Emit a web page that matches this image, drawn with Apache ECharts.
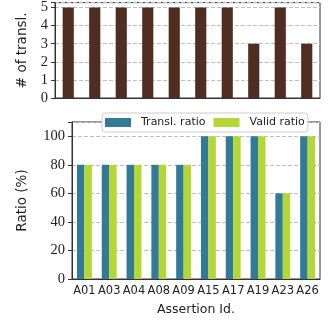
<!DOCTYPE html>
<html><head><meta charset="utf-8">
<script src="https://cdn.jsdelivr.net/npm/echarts@6/dist/echarts.min.js"></script>
<style>html,body{margin:0;padding:0;background:#fff}#c{width:331px;height:322px}</style>
</head><body><div id="c"></div>
<script>
const categories = ['A01','A03','A04','A08','A09','A15','A17','A19','A23','A26'];
const numTransl = [5,5,5,5,5,5,5,3,5,3];
const translRatio = [80,80,80,80,80,100,100,100,60,100];
const validRatio = [80,80,80,80,80,100,100,100,60,100];

const axisColor = '#333';
const serif = 'Liberation Serif';
const sans = 'DejaVu Sans';
const chart = echarts.init(document.getElementById('c'), null, {renderer:'canvas'});
const splitLine = {show:true, lineStyle:{color:'#c0c0c0', type:[4,2], width:1}};
chart.setOption({
  animation:false,
  legend:{
    left:102, top:113, padding:[4,3,4,3], itemGap:8, itemWidth:26, itemHeight:9,
    backgroundColor:'#fff', borderColor:'#ccc', borderWidth:1, borderRadius:3,
    textStyle:{fontFamily:sans, fontSize:11, color:'#222', padding:[0,0,0,5]},
    icon:'rect',
    data:['Transl. ratio','Valid ratio']
  },
  grid:[
    {left:55, right:11, top:0, height:98, show:true, borderColor:axisColor, borderWidth:1, backgroundColor:'transparent'},
    {left:72, right:11, top:122, height:157, show:true, borderColor:axisColor, borderWidth:1, backgroundColor:'transparent'}
  ],
  xAxis:[
    {type:'category', gridIndex:0, data:categories,
     axisLine:{lineStyle:{color:axisColor}}, axisTick:{alignWithLabel:true, length:4, lineStyle:{color:axisColor}},
     axisLabel:{show:false}},
    {type:'category', gridIndex:1, data:categories,
     axisLine:{lineStyle:{color:axisColor}}, axisTick:{alignWithLabel:true, length:4, lineStyle:{color:axisColor}},
     axisLabel:{fontFamily:sans, fontSize:11.5, color:'#222', margin:6, interval:0},
     name:'Assertion Id.', nameLocation:'middle', nameGap:24,
     nameTextStyle:{fontFamily:sans, fontSize:12.5, color:'#222'}}
  ],
  yAxis:[
    {type:'value', gridIndex:0, min:0, max:5.27, interval:1,
     axisLine:{show:true, lineStyle:{color:axisColor}}, axisTick:{show:true, length:4, lineStyle:{color:axisColor}},
     axisLabel:{fontFamily:serif, fontSize:14.5, color:'#222', margin:7,
       formatter:v => (Math.abs(v-Math.round(v))<1e-9 ? String(Math.round(v)) : '')},
     splitLine:splitLine,
     name:'# of transl.', nameLocation:'middle', nameGap:25,
     nameTextStyle:{fontFamily:sans, fontSize:13.5, color:'#222'}},
    {type:'value', gridIndex:1, min:0, max:110, interval:20,
     axisLine:{show:true, lineStyle:{color:axisColor}}, axisTick:{show:true, length:4, lineStyle:{color:axisColor}},
     axisLabel:{fontFamily:serif, fontSize:14.5, color:'#222', margin:7,
       formatter:v => (v % 20 === 0 ? String(v) : '')},
     splitLine:splitLine,
     name:'Ratio (%)', nameLocation:'middle', nameGap:43,
     nameTextStyle:{fontFamily:sans, fontSize:13.5, color:'#222'}}
  ],
  series:[
    {type:'bar', name:'# of transl.', xAxisIndex:0, yAxisIndex:0, data:numTransl, barWidth:'42%',
     itemStyle:{color:'#4f2d21'}},
    {type:'bar', name:'Transl. ratio', xAxisIndex:1, yAxisIndex:1, data:translRatio, barWidth:'30%', barGap:'0%',
     itemStyle:{color:'#337a96'}},
    {type:'bar', name:'Valid ratio', xAxisIndex:1, yAxisIndex:1, data:validRatio, barWidth:'30%', barGap:'0%',
     itemStyle:{color:'#b4d636'}}
  ]
});
</script></body></html>
